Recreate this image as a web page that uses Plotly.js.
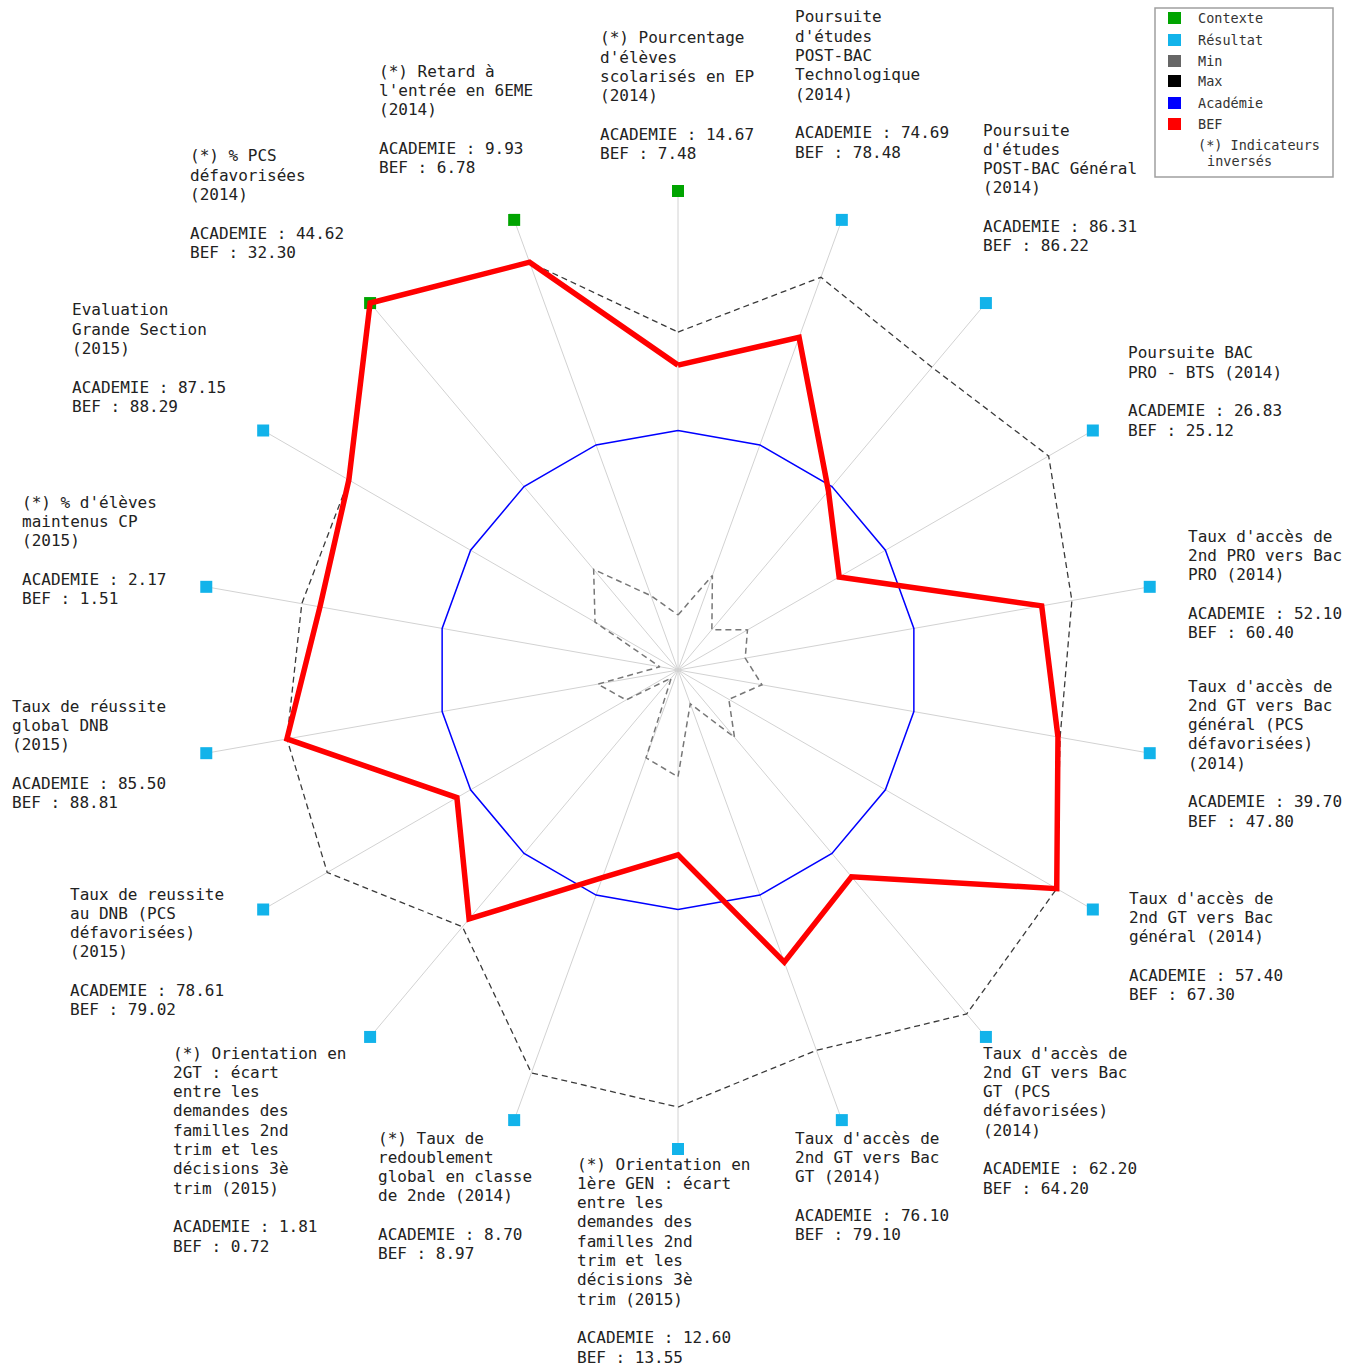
<!DOCTYPE html>
<html>
<head>
<meta charset="utf-8">
<script src="https://cdn.plot.ly/plotly-3.0.1.min.js"></script>
<style>html,body{margin:0;padding:0;background:#fff;}</style>
</head>
<body>
<div id="chart" style="width:1357px;height:1366px;"></div>
<script>
// ---------- DATA ----------
const labels = [
  "(*) Pourcentage\nd'élèves\nscolarisés en EP\n(2014)",
  "Poursuite\nd'études\nPOST-BAC\nTechnologique\n(2014)",
  "Poursuite\nd'études\nPOST-BAC Général\n(2014)",
  "Poursuite BAC\nPRO - BTS (2014)",
  "Taux d'accès de\n2nd PRO vers Bac\nPRO (2014)",
  "Taux d'accès de\n2nd GT vers Bac\ngénéral (PCS\ndéfavorisées)\n(2014)",
  "Taux d'accès de\n2nd GT vers Bac\ngénéral (2014)",
  "Taux d'accès de\n2nd GT vers Bac\nGT (PCS\ndéfavorisées)\n(2014)",
  "Taux d'accès de\n2nd GT vers Bac\nGT (2014)",
  "(*) Orientation en\n1ère GEN : écart\nentre les\ndemandes des\nfamilles 2nd\ntrim et les\ndécisions 3è\ntrim (2015)",
  "(*) Taux de\nredoublement\nglobal en classe\nde 2nde (2014)",
  "(*) Orientation en\n2GT : écart\nentre les\ndemandes des\nfamilles 2nd\ntrim et les\ndécisions 3è\ntrim (2015)",
  "Taux de reussite\nau DNB (PCS\ndéfavorisées)\n(2015)",
  "Taux de réussite\nglobal DNB\n(2015)",
  "(*) % d'élèves\nmaintenus CP\n(2015)",
  "Evaluation\nGrande Section\n(2015)",
  "(*) % PCS\ndéfavorisées\n(2014)",
  "(*) Retard à\nl'entrée en 6EME\n(2014)"
];
const indicatorType = ["Contexte","Résultat","Résultat","Résultat","Résultat","Résultat","Résultat","Résultat","Résultat",
                       "Résultat","Résultat","Résultat","Résultat","Résultat","Résultat","Résultat","Contexte","Contexte"];
const academieValues = [14.67, 74.69, 86.31, 26.83, 52.10, 39.70, 57.40, 62.20, 76.10, 12.60, 8.70, 1.81, 78.61, 85.50, 2.17, 87.15, 44.62, 9.93];
const befValues      = [7.48, 78.48, 86.22, 25.12, 60.40, 47.80, 67.30, 64.20, 79.10, 13.55, 8.97, 0.72, 79.02, 88.81, 1.51, 88.29, 32.30, 6.78];

// normalised radar radii (Académie = 1, indicator marker = 2)
const academieRadar = [1,1,1,1,1,1,1,1,1,1,1,1,1,1,1,1,1,1];
const befRadar = [1.273, 1.478, 0.977, 0.777, 1.542, 1.611, 1.826, 1.127, 1.298, 0.772, 0.923, 1.357, 1.066, 1.658, 1.518, 1.587, 2.0, 1.812];
const minRadar = [0.23, 0.42, 0.22, 0.335, 0.285, 0.356, 0.245, 0.367, 0.15, 0.446, 0.39, 0.044, 0.25, 0.34, 0.077, 0.40, 0.548, 0.33];
const maxRadar = [1.411, 1.745, 1.65, 1.787, 1.67, 1.62, 1.826, 1.875, 1.69, 1.825, 1.79, 1.40, 1.691, 1.658, 1.595, 1.587, 2.0, 1.812];
const markerRadar = 2;

const legendItems = ["Contexte", "Résultat", "Min", "Max", "Académie", "BEF"];

// ---------- LAYOUT / STYLE ----------
const W = 1357, H = 1366;
const CX = 678, CY = 670, RPX = 500;        // polar centre & radius in px
const RMAX = 2 * RPX / 479;
const FONT = "DejaVu Sans Mono";
const colors = {Contexte: "#00a400", "Résultat": "#12b3ea", Min: "#666666", Max: "#000000", "Académie": "#0000ff", BEF: "#ff0000"};
// label block positions: [left px, first line centre px]
const labelPos = [[598,38],[793,17],[981,130],[1126,353],[1186,536],[1186,686],[1127,898],[981,1053],[793,1138],
                  [575,1164],[376,1138],[171,1053],[68,894],[10,706],[20,502],[70,310],[188,156],[377,71]];
const LINE = 19.3;

const n = labels.length;
const theta = labels.map((_, i) => i * 360 / n);
const close = a => a.concat([a[0]]);
const thetaC = close(theta);

const spokeR = [], spokeT = [];
theta.forEach(t => { spokeR.push(0, markerRadar, null); spokeT.push(t, t, null); });

const traces = [
  {type: "scatterpolar", mode: "lines", r: spokeR, theta: spokeT, line: {color: "#d2d2d2", width: 1}, hoverinfo: "skip", connectgaps: false},
  {type: "scatterpolar", mode: "markers", r: theta.map(() => markerRadar), theta: theta,
   marker: {symbol: "square", size: 12, color: indicatorType.map(t => colors[t])}},
  {type: "scatterpolar", mode: "lines", r: close(minRadar), theta: thetaC, line: {color: "#777777", width: 1.5, dash: "6px,4px"}},
  {type: "scatterpolar", mode: "lines", r: close(maxRadar), theta: thetaC, line: {color: "#3a3a3a", width: 1.3, dash: "6px,4px"}},
  {type: "scatterpolar", mode: "lines", r: close(academieRadar), theta: thetaC, line: {color: colors["Académie"], width: 1.5}},
  {type: "scatterpolar", mode: "lines", r: close(befRadar), theta: thetaC, line: {color: colors.BEF, width: 5.5}}
];

const annotations = [];
labels.forEach((lab, i) => {
  const lines = lab.split("\n").concat(["", "ACADEMIE : " + academieValues[i].toFixed(2), "BEF : " + befValues[i].toFixed(2)]);
  lines.forEach((ln, k) => {
    if (!ln) return;
    annotations.push({xref: "paper", yref: "paper", x: labelPos[i][0] / W, y: 1 - (labelPos[i][1] + k * LINE) / H,
      xanchor: "left", yanchor: "middle", showarrow: false, text: ln, font: {family: FONT, size: 16, color: "#222"}});
  });
});

// manual legend
const shapes = [{type: "rect", xref: "paper", yref: "paper", x0: 1155 / W, x1: 1333 / W, y0: 1 - 177 / H, y1: 1 - 8 / H,
                 line: {color: "#a0a0a0", width: 1.5}, fillcolor: "rgba(0,0,0,0)"}];
const legRowY = [18, 40, 61, 81, 103, 124];
legendItems.forEach((name, k) => {
  const y = legRowY[k];
  shapes.push({type: "rect", xref: "paper", yref: "paper", x0: 1168 / W, x1: 1181 / W, y0: 1 - (y + 6) / H, y1: 1 - (y - 6) / H,
               line: {width: 0}, fillcolor: colors[name]});
  annotations.push({xref: "paper", yref: "paper", x: 1196 / W, y: 1 - y / H, xanchor: "left", yanchor: "middle", showarrow: false,
                    text: name, font: {family: FONT, size: 13.5, color: "#333"}});
});
annotations.push({xref: "paper", yref: "paper", x: 1196 / W, y: 1 - 145 / H, xanchor: "left", yanchor: "middle", showarrow: false,
                  text: "(*) Indicateurs", font: {family: FONT, size: 13.5, color: "#333"}});
annotations.push({xref: "paper", yref: "paper", x: 1205 / W, y: 1 - 161 / H, xanchor: "left", yanchor: "middle", showarrow: false,
                  text: "inversés", font: {family: FONT, size: 13.5, color: "#333"}});

const layout = {
  width: W, height: H, margin: {l: 0, r: 0, t: 0, b: 0}, paper_bgcolor: "#fff", showlegend: false,
  polar: {
    domain: {x: [(CX - RPX) / W, (CX + RPX) / W], y: [(H - CY - RPX) / H, (H - CY + RPX) / H]},
    bgcolor: "rgba(0,0,0,0)",
    radialaxis: {visible: false, range: [0, RMAX]},
    angularaxis: {visible: false, rotation: 90, direction: "clockwise", thetaunit: "degrees"}
  },
  annotations: annotations, shapes: shapes
};

Plotly.newPlot("chart", traces, layout, {displayModeBar: false, staticPlot: true});
</script>
</body>
</html>
